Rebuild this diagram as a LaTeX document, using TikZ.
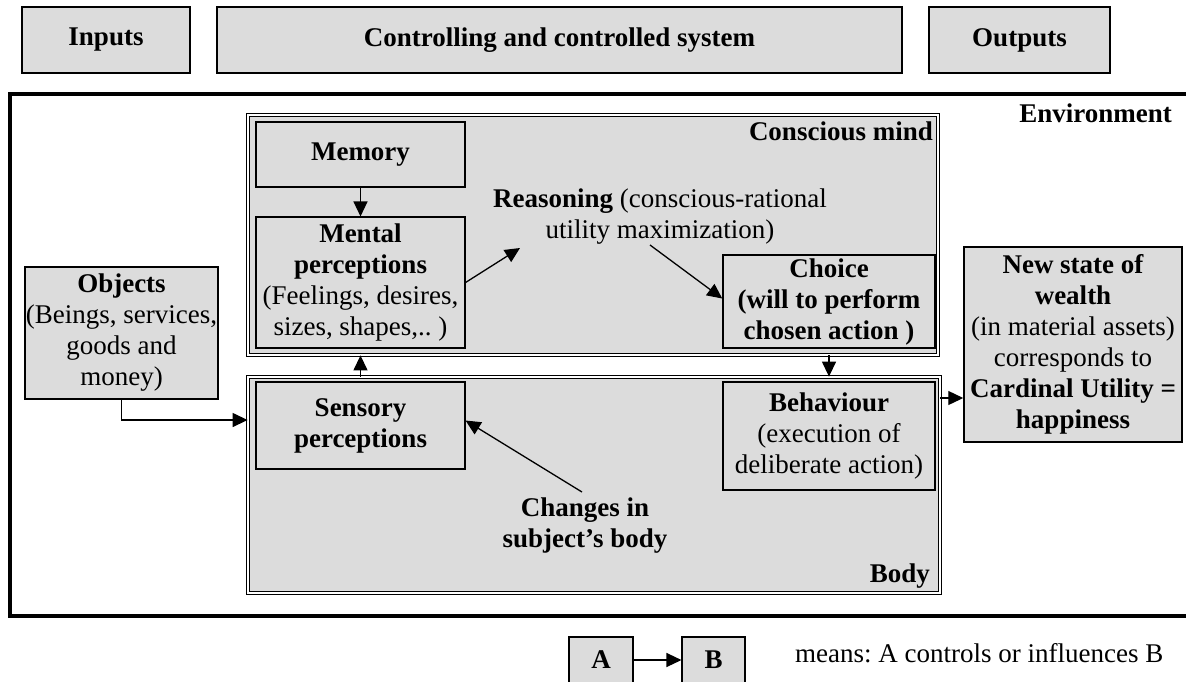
\documentclass[tikz,border=0pt]{standalone}
\usepackage{fontspec}
\setmainfont{Liberation Serif}
\usetikzlibrary{arrows.meta}
\definecolor{boxgray}{HTML}{DCDCDC}
\newcommand\diagfont{\fontsize{27}{31}\selectfont\frenchspacing}
\begin{document}
\begin{tikzpicture}[x=1pt,y=-1pt,
  box/.style={draw, fill=boxgray, line width=1.1pt, align=center, inner sep=0pt, font=\diagfont},
  region/.style={draw, fill=boxgray, line width=0.8pt, double, double distance=1.6pt, inner sep=0pt},
  tag/.style={font=\diagfont\bfseries, inner sep=0pt},
  arr/.style={line width=1.3pt, -{Triangle[length=15pt,width=14pt]}},
]
\useasboundingbox (0,0) rectangle (1186,681);

% column headings
\node[box, minimum width=168pt, minimum height=66pt] (hin)  at (106,40)    {\bfseries Inputs};
\node[box, minimum width=685pt, minimum height=66pt] (hsys) at (559.5,40)  {\bfseries Controlling and controlled system};
\node[box, minimum width=181pt, minimum height=66pt] (hout) at (1019.5,40) {\bfseries Outputs};

% environment frame (open to the right)
\node[draw, line width=4pt, minimum width=1210pt, minimum height=522pt, inner sep=0pt] (env) at (615,355) {};
\node[tag, anchor=base east] (envlabel) at (1172,122) {Environment};

% mind and body regions
\node[region, minimum width=690pt, minimum height=240pt] (mind) at (593,235) {};
\node[region, minimum width=692pt, minimum height=216pt] (body) at (594,485) {};
\node[tag, anchor=base east] (mindlabel) at (933,140) {Conscious mind};
\node[tag, anchor=base east] (bodylabel) at (930,582) {Body};

% boxes
\node[box, minimum width=209pt, minimum height=65pt]  (memory)  at (360.5,154.5) {\bfseries Memory};
\node[box, minimum width=209pt, minimum height=131pt] (mental)  at (360.5,282.5)
  {\bfseries Mental\\ \bfseries perceptions\\ (Feelings, desires,\\ sizes, shapes,.. )};
\node[box, minimum width=193pt, minimum height=132pt] (objects) at (121.5,333)
  {\bfseries Objects\\ (Beings, services,\\ goods and\\ money)};
\node[box, minimum width=209pt, minimum height=87pt]  (sensory) at (360.5,425.5)
  {\bfseries Sensory\\ \bfseries perceptions};
\node[box, line width=1.5pt, minimum width=212pt, minimum height=93pt] (choice) at (829,301.5)
  {\bfseries Choice\\ \bfseries (will to perform\\ \bfseries chosen action )};
\node[box, line width=1.5pt, minimum width=212pt, minimum height=108pt] (behaviour) at (829,436)
  {\bfseries Behaviour\\ (execution of\\ deliberate action)};
\node[box, line width=1.5pt, minimum width=218pt, minimum height=195pt] (newstate) at (1073,344.5)
  {\bfseries New state of\\ \bfseries wealth\\ (in material assets)\\ corresponds to\\ \bfseries Cardinal Utility =\\ \bfseries happiness};

% free labels
\node[font=\diagfont, align=center, inner sep=0pt] (reasoning) at (660,217)
  {\textbf{Reasoning} (conscious-rational\\ utility maximization)};
\node[tag, align=center] (changes) at (585,526) {Changes in\\ subject’s body};
\coordinate (rin)  at (520,248);
\coordinate (rout) at (650,245);

% influences
\draw[arr] (memory.south) -- (mental.north);
\draw[arr] (mental.east) -- (rin);
\draw[arr] (rout) -- ([yshift=3pt]choice.west);
\draw[arr] (sensory.north |- body.north) -- (sensory.north |- mind.south);
\draw[arr] (choice.south |- mind.south) -- (choice.south |- body.north);
\draw[arr] (objects.south) |- (body.west |- 0,420);
\draw[arr] ([xshift=-3pt,yshift=6pt]changes.north) -- ([yshift=5pt]sensory.east);
\draw[arr] (body.east |- 0,398) -- (newstate.west |- 0,398);

% key
\node[box, minimum width=64pt, minimum height=46pt] (keya) at (601,660)   {\bfseries A};
\node[box, minimum width=63pt, minimum height=46pt] (keyb) at (713.5,660) {\bfseries B};
\draw[arr] (keya.east) -- (keyb.west);
\node[font=\diagfont, anchor=west, inner sep=0pt] (keytext) at (795,653) {means: A controls or influences B};
\end{tikzpicture}
\end{document}
